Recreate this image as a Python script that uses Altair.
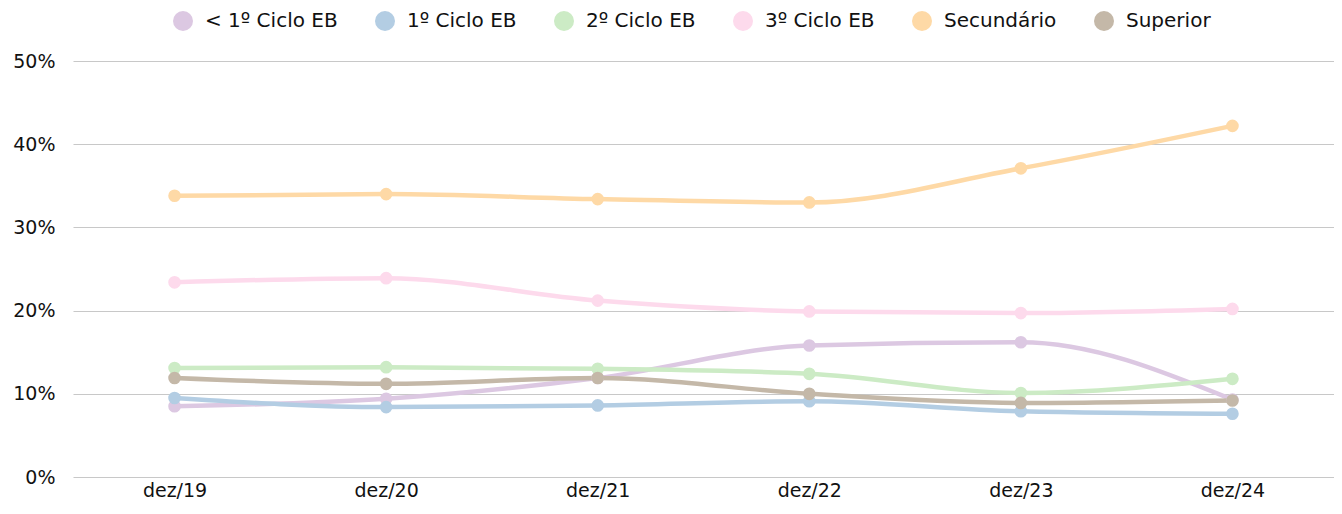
import altair as alt
import pandas as pd

periods = ["dez/19", "dez/20", "dez/21", "dez/22", "dez/23", "dez/24"]
series_names = ["< 1º Ciclo EB", "1º Ciclo EB", "2º Ciclo EB", "3º Ciclo EB", "Secundário", "Superior"]
colors = ["#dcc8e2", "#b3cde3", "#ccebc5", "#fddaec", "#fed9a6", "#c4b8a8"]

v_lt1 = [8.5, 9.4, 11.9, 15.8, 16.2, 9.3]
v_1 = [9.5, 8.4, 8.6, 9.1, 7.9, 7.6]
v_2 = [13.1, 13.2, 13.0, 12.4, 10.1, 11.8]
v_3 = [23.4, 23.9, 21.2, 19.9, 19.7, 20.2]
v_sec = [33.8, 34.0, 33.4, 33.0, 37.1, 42.2]
v_sup = [11.9, 11.2, 11.9, 10.0, 8.9, 9.2]

all_vals = [v_lt1, v_1, v_2, v_3, v_sec, v_sup]
rows = []
for name, vals in zip(series_names, all_vals):
    for p, v in zip(periods, vals):
        rows.append({"Período": p, "Série": name, "Valor": v / 100})
df = pd.DataFrame(rows)

font = "DejaVu Sans"

x = alt.X("Período:N", sort=periods, title=None,
          scale=alt.Scale(type="point", padding=0.48),
          axis=alt.Axis(labelAngle=0, domain=False, ticks=False, grid=False,
                        labelFontSize=19, labelColor="#111", labelFont=font, labelPadding=4))
y = alt.Y("Valor:Q", title=None,
          scale=alt.Scale(domain=[0, 0.5]),
          axis=alt.Axis(format=".0%", values=[0, 0.1, 0.2, 0.3, 0.4, 0.5], domain=False, ticks=False,
                        gridColor="#c8c8c8", gridWidth=1.2,
                        labelFontSize=19, labelColor="#111", labelFont=font, labelPadding=18))
color = alt.Color("Série:N", sort=series_names,
                  scale=alt.Scale(domain=series_names, range=colors),
                  legend=alt.Legend(orient="none", legendX=100, legendY=-50,
                                    direction="horizontal", title=None,
                                    symbolType="circle", symbolSize=400, symbolOpacity=1,
                                    symbolStrokeWidth=0, labelOffset=12,
                                    labelFontSize=20, labelFont=font, labelColor="#111",
                                    columnPadding=37))

base = alt.Chart(df).encode(x=x, y=y, color=color)
lines = base.mark_line(interpolate="monotone", strokeWidth=4.5)
points = base.mark_circle(size=160, opacity=1)

chart = (lines + points).properties(
    width=1261, height=416,
    autosize=alt.AutoSizeParams(type="none"),
    padding={"left": 65, "top": 53, "right": 0, "bottom": 27},
).configure_view(stroke=None)

chart.save("out.html", embed_options={"renderer": "svg", "actions": False})
